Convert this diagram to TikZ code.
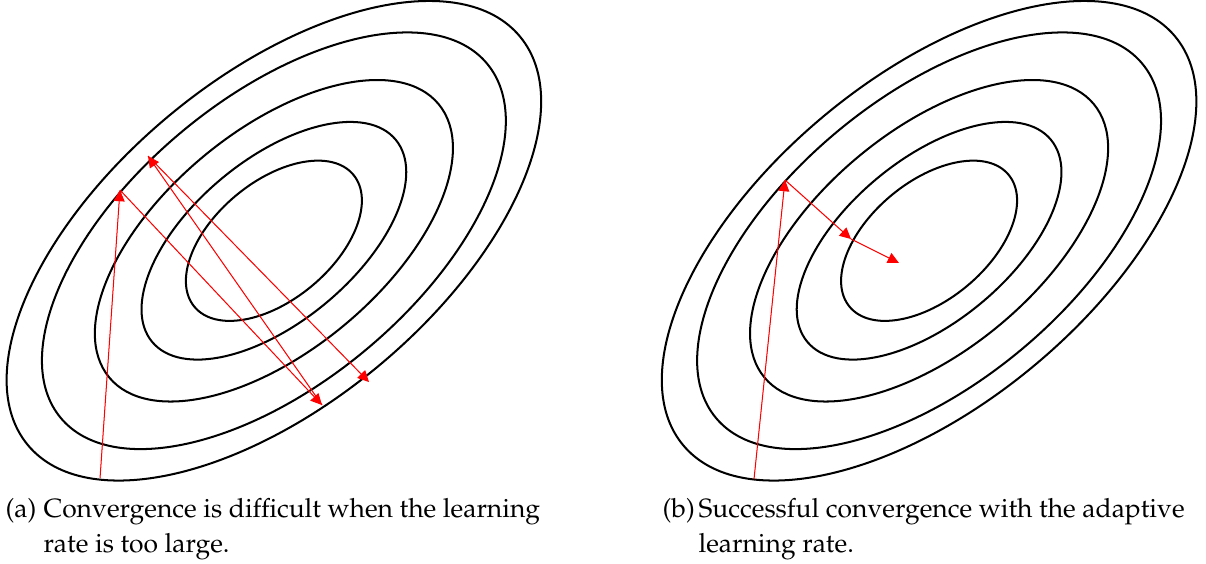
\documentclass[tikz,border=0pt]{standalone}
\usepackage[T1]{fontenc}
\usepackage{mathpazo}
\usepackage{tikz}
\usepackage{xcolor}
\usetikzlibrary{arrows.meta,positioning}
\definecolor{ink}{HTML}{000000}
\definecolor{descent}{HTML}{FF0000}
\tikzset{
  contour/.style={draw=ink, line width=0.7pt},
  update/.style={-{Triangle[length=3.9pt,width=3.8pt]}, draw=descent, fill=descent, line width=0.35pt},
  caption/.style={inner sep=0pt, anchor=base west, align=left, font=\fontsize{9.17}{12.14}\selectfont}
}

\begin{document}
\begin{tikzpicture}[x=1cm,y=1cm,>=Latex]
        \useasboundingbox (0,0) rectangle (14.707,6.866);

        % level sets of the loss, both panels
        \foreach \cx in {3.34,11.33} {
          \foreach \rx/\ry in {3.90/1.99,3.38/1.74,2.61/1.34,1.93/0.99,1.26/0.72}
            {\draw[contour,rotate around={39.7:(\cx,3.93)}] (\cx,3.93) ellipse [x radius=\rx, y radius=\ry];}
        }

        % (a) steps overshoot the minimum
        \coordinate (a0) at (1.220,1.037);
        \coordinate (a1) at (1.463,4.549);
        \coordinate (a2) at (3.927,1.927);
        \coordinate (a3) at (1.805,4.963);
        \coordinate (a4) at (4.500,2.207);
        \draw[update] (a0) -- (a1);
        \draw[update] (a1) -- (a2);
        \draw[update] (a2) -- (a3);
        \draw[update] (a3) -- (a4);

        % (b) steps shrink towards the minimum
        \coordinate (b0) at (9.195,1.024);
        \coordinate (b1) at (9.573,4.671);
        \coordinate (b2) at (10.378,3.951);
        \coordinate (b3) at (10.963,3.659);
        \draw[update] (b0) -- (b1);
        \draw[update] (b1) -- (b2);
        \draw[update] (b2) -- (b3);

        % sub-captions (base anchor sits on the last line)
        \node[caption] (capa) at (0.524,0.134) {Convergence is difficult when the learning\\rate is too large.};
        \node[caption] (taga) at (0.061,0.561) {(a)};
        \node[caption] (capb) at (8.512,0.134) {Successful convergence with the adaptive\\learning rate.};
        \node[caption] (tagb) at (8.073,0.561) {(b)};
      \end{tikzpicture}
\end{document}
